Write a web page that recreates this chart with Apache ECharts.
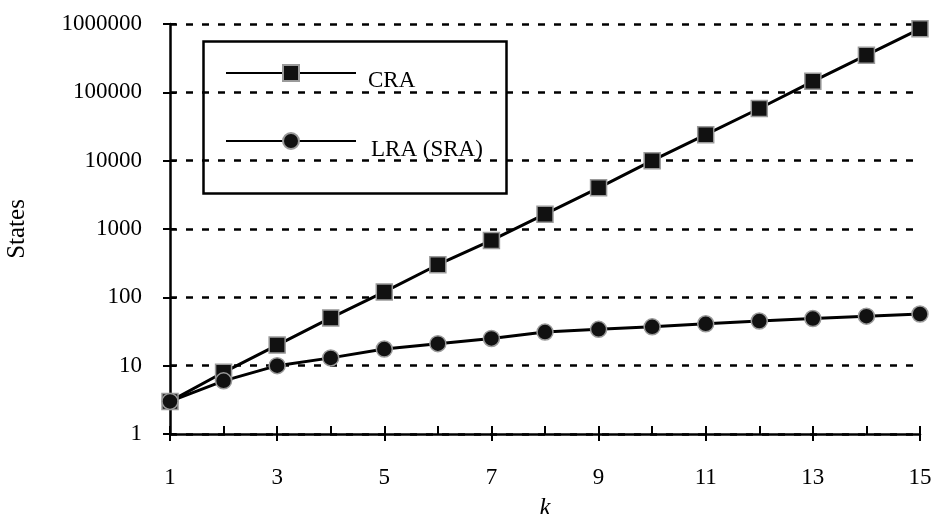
<!DOCTYPE html>
<html>
<head>
<meta charset="utf-8">
<script src="https://cdn.jsdelivr.net/npm/echarts@6/dist/echarts.min.js"></script>
<style>
html,body{margin:0;padding:0;background:#fff;}
#chart{width:941px;height:514px;}
</style>
</head>
<body>
<div id="chart"></div>
<script>
const kValues = ['1','2','3','4','5','6','7','8','9','10','11','12','13','14','15'];
const craValues = [3, 8, 20, 50, 120, 300, 680, 1650, 4000, 10000, 24000, 58000, 145000, 350000, 850000];
const lraValues = [3, 6, 10, 13, 17.5, 21, 25, 31, 34, 37, 41, 45, 49, 53, 57];
const seriesNames = ['CRA', 'LRA (SRA)'];
const yMin = 1, yMax = 1000000;

const FONT = 'Liberation Serif';
const chart = echarts.init(document.getElementById('chart'));

const legendCommon = {
  orient: 'vertical',
  padding: 0,
  itemWidth: 130,
  itemHeight: 20,
  lineStyle: { width: 2 },
  formatter: function () { return ''; },
  textStyle: { fontFamily: FONT, fontSize: 23, color: '#000' }
};

const option = {
  backgroundColor: '#fff',
  animation: false,
  grid: { left: 170, right: 21, top: 24, bottom: 80, outerBoundsMode: 'none', containLabel: false },
  graphic: [
    { type: 'rect', left: 201, top: 39, shape: { width: 303, height: 152 },
      style: { fill: 'none', stroke: '#000', lineWidth: 2.5 }, z: 10 },
    { type: 'text', x: 368, y: 81, z: 10,
      style: { text: seriesNames[0], font: '23px "Liberation Serif"', fill: '#000', verticalAlign: 'middle', align: 'left' } },
    { type: 'text', x: 371, y: 150, z: 10,
      style: { text: seriesNames[1], font: '23px "Liberation Serif"', fill: '#000', verticalAlign: 'middle', align: 'left' } }
  ],
  legend: [
    Object.assign({}, legendCommon, { left: 225, top: 63, data: [seriesNames[0]] }),
    Object.assign({}, legendCommon, { left: 225, top: 131, data: [seriesNames[1]] })
  ],
  xAxis: [
    {
      type: 'category', data: kValues, boundaryGap: false,
      name: 'k', nameLocation: 'middle', nameGap: 62,
      nameTextStyle: { fontFamily: FONT, fontSize: 25, fontStyle: 'italic', color: '#000' },
      axisLine: { lineStyle: { color: '#000', width: 2.5 } },
      axisTick: { inside: true, length: 8, interval: 0, lineStyle: { color: '#000', width: 2 } },
      axisLabel: { interval: 1, margin: 32, fontFamily: FONT, fontSize: 23, color: '#000' },
      splitLine: { show: false }
    },
    {
      type: 'category', data: kValues, boundaryGap: false, position: 'bottom',
      axisLine: { show: false },
      axisTick: { inside: false, length: 7, interval: 1, lineStyle: { color: '#000', width: 2 } },
      axisLabel: { show: false },
      splitLine: { show: false }
    }
  ],
  yAxis: [
    {
      type: 'log', logBase: 10, min: yMin, max: yMax,
      name: 'States', nameLocation: 'middle', nameGap: 140, nameRotate: 90,
      nameTextStyle: { fontFamily: FONT, fontSize: 25, color: '#000' },
      axisLine: { show: true, lineStyle: { color: '#000', width: 2.5 } },
      axisTick: { show: true, inside: false, length: 7, lineStyle: { color: '#000', width: 2 } },
      axisLabel: { margin: 28, fontFamily: FONT, fontSize: 23, color: '#000',
                   formatter: function (v) { return String(Math.round(v)); } },
      splitLine: { show: true, lineStyle: { color: '#000', width: 2.5, type: [7, 9] } },
      minorTick: { show: false }
    },
    {
      type: 'log', logBase: 10, min: yMin, max: yMax, position: 'left',
      axisLine: { show: false },
      axisTick: { show: true, inside: true, length: 6, lineStyle: { color: '#000', width: 2 } },
      axisLabel: { show: false },
      splitLine: { show: false }
    }
  ],
  series: [
    {
      name: seriesNames[0], type: 'line', data: craValues,
      symbol: 'rect', symbolSize: 16,
      lineStyle: { color: '#000', width: 3 },
      itemStyle: { color: '#111', borderColor: '#9a9a9a', borderWidth: 1.5 },
      z: 3
    },
    {
      name: seriesNames[1], type: 'line', data: lraValues,
      symbol: 'circle', symbolSize: 16,
      lineStyle: { color: '#000', width: 3 },
      itemStyle: { color: '#111', borderColor: '#9a9a9a', borderWidth: 1.5 },
      z: 3
    }
  ]
};
chart.setOption(option);
</script>
</body>
</html>
